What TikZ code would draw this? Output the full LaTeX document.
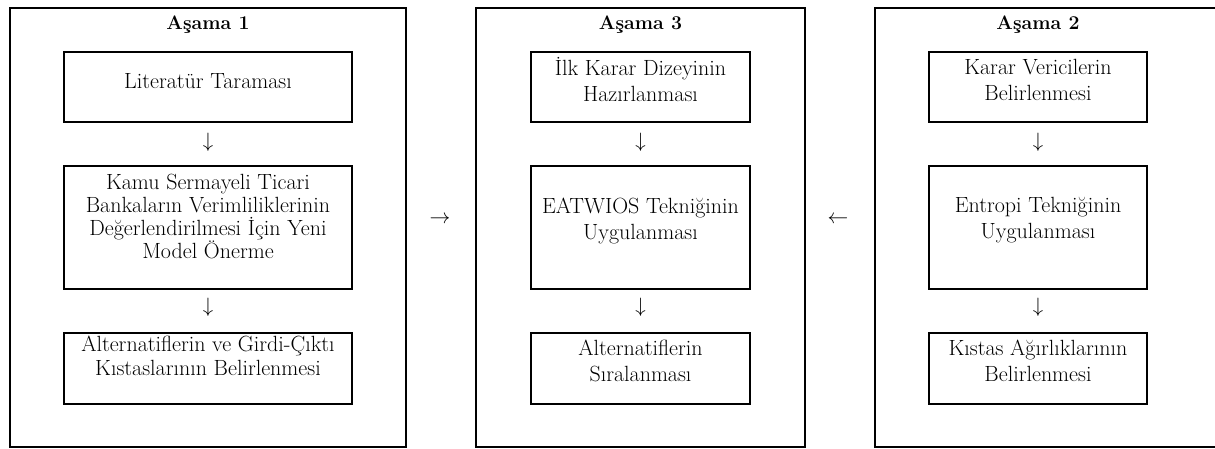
\documentclass[tikz,border=0pt]{standalone}
\begin{document}
\begin{tikzpicture}[x=1pt,y=-1pt,
  frame/.style={draw,line width=1.6pt,inner sep=0pt},
  stepbox/.style={draw,line width=1.6pt,inner sep=0pt},
  lbl/.style={align=center,inner sep=0pt,font=\fontsize{22}{26}\selectfont},
  ttl/.style={inner sep=0pt,font=\bfseries\fontsize{19.5}{22}\selectfont},
  arr/.style={inner sep=0pt,font=\fontsize{21}{24}\selectfont}]
\useasboundingbox (0,0) rectangle (1215,449);
\clip (0,0) rectangle (1215,449);
% outer frames
\node[frame,minimum width=396pt,minimum height=439pt] (s1) at (208,227.5) {};
\node[frame,minimum width=329pt,minimum height=439pt] (s3) at (640.5,227.5) {};
\node[frame,minimum width=355pt,minimum height=439pt] (s2) at (1052.5,227.5) {};
% titles
\node[ttl] (t1) at (208,25) {Aşama 1};
\node[ttl] (t3) at (640.5,25) {Aşama 3};
\node[ttl] (t2) at (1038,25) {Aşama 2};
% stage 1 boxes
\node[stepbox,minimum width=288pt,minimum height=70pt] (a1) at (208,87) {};
\node[stepbox,minimum width=288pt,minimum height=123pt] (a2) at (208,227.5) {};
\node[stepbox,minimum width=288pt,minimum height=71pt] (a3) at (208,368.5) {};
\node[lbl] (la1) at (208,81) {Literatür Taraması};
\node[lbl,font=\fontsize{22}{23}\selectfont] (la2) at (208,216) {Kamu Sermayeli Ticari\\Bankaların Verimliliklerinin\\Değerlendirilmesi İçin Yeni\\Model Önerme};
\node[lbl,font=\fontsize{22}{24.5}\selectfont] (la3) at (208,356) {Alternatiflerin ve Girdi-Çıktı\\Kıstaslarının Belirlenmesi};
% stage 3 boxes
\node[stepbox,minimum width=219pt,minimum height=70pt] (b1) at (640.5,87) {};
\node[stepbox,minimum width=219pt,minimum height=123pt] (b2) at (640.5,227.5) {};
\node[stepbox,minimum width=219pt,minimum height=71pt] (b3) at (640.5,368.5) {};
\node[lbl] (lb1) at (640.5,80) {İlk Karar Dizeyinin\\Hazırlanması};
\node[lbl] (lb2) at (640.5,221) {EATWIOS Tekniğinin\\Uygulanması};
\node[lbl] (lb3) at (640.5,361) {Alternatiflerin\\Sıralanması};
% stage 2 boxes
\node[stepbox,minimum width=218pt,minimum height=70pt] (c1) at (1038,87) {};
\node[stepbox,minimum width=218pt,minimum height=123pt] (c2) at (1038,227.5) {};
\node[stepbox,minimum width=218pt,minimum height=71pt] (c3) at (1038,368.5) {};
\node[lbl] (lc1) at (1038,80) {Karar Vericilerin\\Belirlenmesi};
\node[lbl] (lc2) at (1038,220) {Entropi Tekniğinin\\Uygulanması};
\node[lbl] (lc3) at (1038,361) {Kıstas Ağırlıklarının\\Belirlenmesi};
% arrows (glyphs)
\node[arr] (da1) at (208,142) {$\downarrow$};
\node[arr] (da2) at (208,307) {$\downarrow$};
\node[arr] (db1) at (640.5,142) {$\downarrow$};
\node[arr] (db2) at (640.5,307) {$\downarrow$};
\node[arr] (dc1) at (1038,142) {$\downarrow$};
\node[arr] (dc2) at (1038,307) {$\downarrow$};
\node[arr] (h1) at (440,220) {$\rightarrow$};
\node[arr] (h2) at (838,220) {$\leftarrow$};
\end{tikzpicture}
\end{document}
